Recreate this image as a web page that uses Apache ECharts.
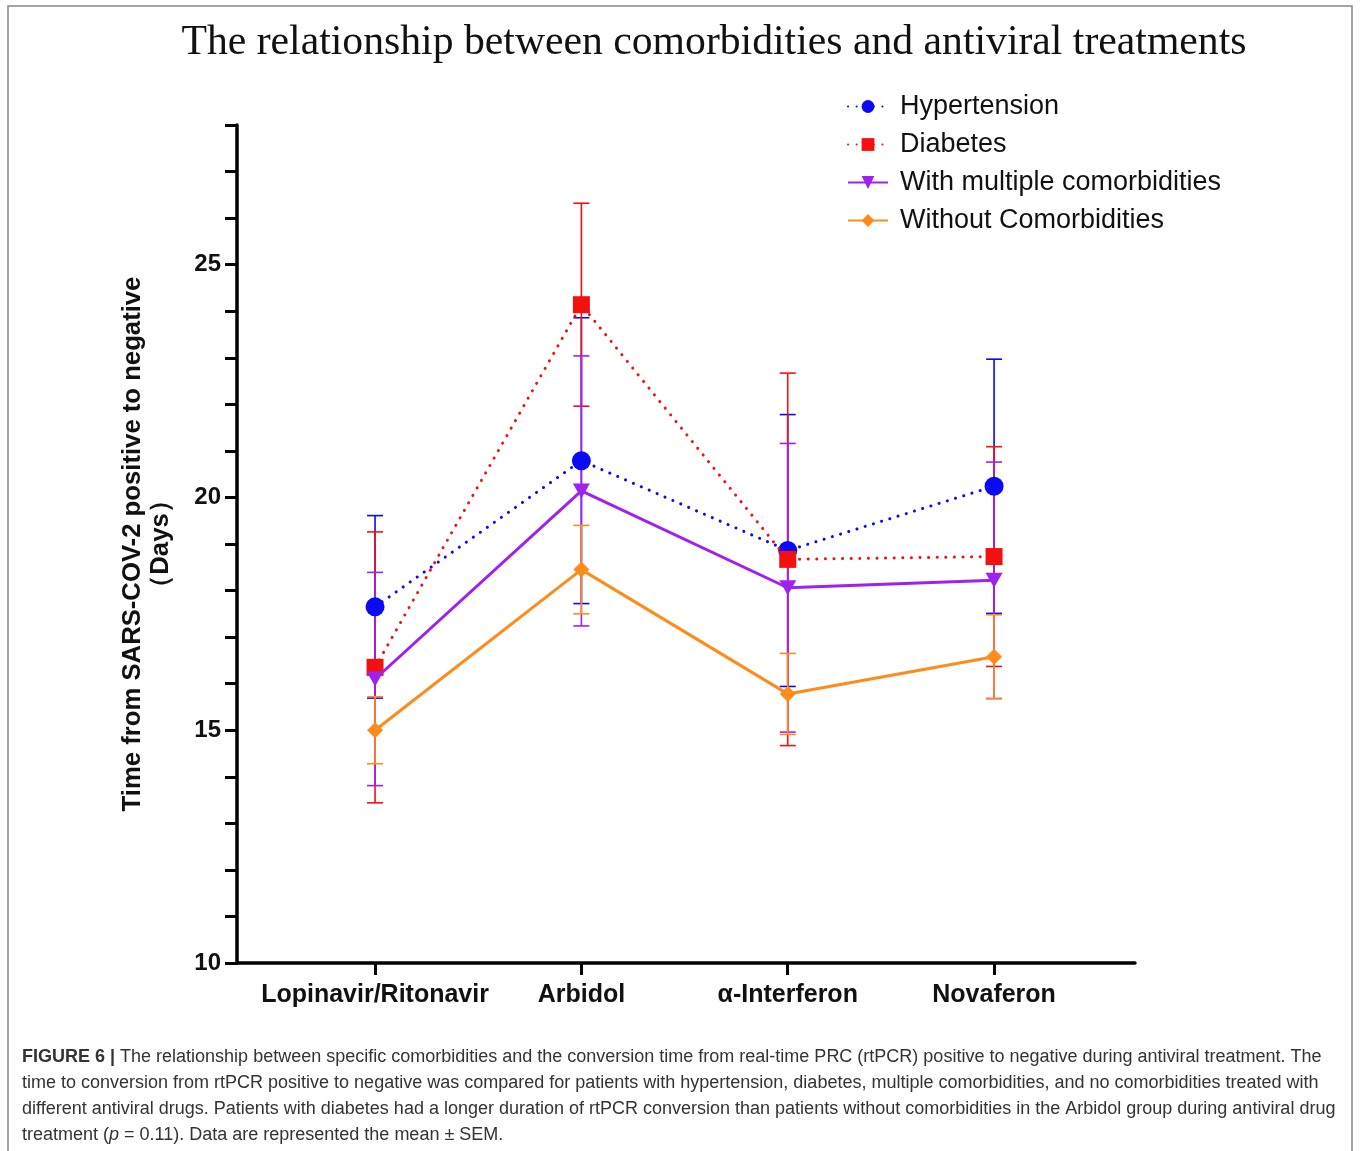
<!DOCTYPE html>
<html>
<head>
<meta charset="utf-8">
<script src="https://cdn.jsdelivr.net/npm/echarts@6/dist/echarts.min.js"></script>
<style>html,body{margin:0;padding:0;background:#fff;}#chart{width:1360px;height:1151px;}</style>
</head>
<body>
<div id="chart"></div>
<script>
const categories = ['Lopinavir/Ritonavir', 'Arbidol', 'α-Interferon', 'Novaferon'];
const seriesNames = ['Hypertension', 'Diabetes', 'With multiple comorbidities', 'Without Comorbidities'];
const hypMean = [17.65, 20.79, 18.86, 20.24];
const hypSem  = [1.96, 3.07, 2.92, 2.73];
const diaMean = [16.35, 24.14, 18.67, 18.73];
const diaSem  = [2.91, 2.18, 4.00, 2.36];
const mulMean = [16.10, 20.14, 18.06, 18.22];
const mulSem  = [2.29, 2.90, 3.10, 2.54];
const woMean  = [15.00, 18.45, 15.78, 16.58];
const woSem   = [0.72, 0.95, 0.87, 0.90];
const yLabelTicks = [10, 15, 20, 25];

const colors = ['#0A0AF5', '#F51010', '#A020F0', '#FF8C1A'];
const means = [hypMean, diaMean, mulMean, woMean];
const sems = [hypSem, diaSem, mulSem, woSem];
const symbols = ['circle', 'rect', 'triangle', 'diamond'];
const symbolSizes = [19, 17, [17, 15], [16, 16]];
const dotted = [true, true, false, false];

const chart = echarts.init(document.getElementById('chart'));

const series = [];
// error bars (mean ± SEM)
means.forEach((m, s) => {
  series.push({
    type: 'custom',
    name: 'err' + s,
    z: 2 + s * 0.1,
    silent: true,
    data: m.map((v, i) => [i, v - sems[s][i], v + sems[s][i]]),
    encode: { x: 0, y: [1, 2] },
    renderItem: function (params, api) {
      const x = api.value(0);
      const lo = api.coord([x, api.value(1)]);
      const hi = api.coord([x, api.value(2)]);
      const w = 8;
      const style = { stroke: colors[s], lineWidth: 1.6 };
      return {
        type: 'group',
        children: [
          { type: 'line', shape: { x1: lo[0], y1: lo[1], x2: hi[0], y2: hi[1] }, style: style },
          { type: 'line', shape: { x1: lo[0] - w, y1: lo[1], x2: lo[0] + w, y2: lo[1] }, style: style },
          { type: 'line', shape: { x1: hi[0] - w, y1: hi[1], x2: hi[0] + w, y2: hi[1] }, style: style }
        ]
      };
    }
  });
});
// lines with markers
means.forEach((m, s) => {
  series.push({
    type: 'line',
    name: seriesNames[s],
    z: 5 + s * 0.1,
    data: m.map((v, i) => [i, v]),
    symbol: symbols[s],
    symbolRotate: symbols[s] === 'triangle' ? 180 : 0,
    symbolSize: symbolSizes[s],
    showAllSymbol: true,
    itemStyle: { color: colors[s], opacity: 1 },
    lineStyle: dotted[s]
      ? { color: colors[s], width: 3, type: [0.1, 8.5], cap: 'round' }
      : { color: colors[s], width: 3 },
    emphasis: { disabled: true },
    animation: false
  });
});

const option = {
  animation: false,
  backgroundColor: '#ffffff',
  title: {
    text: 'The relationship between comorbidities and antiviral treatments',
    left: 709,
    textAlign: 'center',
    top: 17,
    textStyle: { fontFamily: 'Liberation Serif', fontSize: 41.7, fontWeight: 'normal', color: '#111' }
  },
  legend: {
    orient: 'vertical',
    left: 842,
    top: 88,
    itemWidth: 40,
    itemHeight: 16,
    itemGap: 11,
    data: seriesNames,
    textStyle: { fontFamily: 'Liberation Sans', fontSize: 27, color: '#111', padding: [0, 0, 0, 7] },
    selectedMode: false
  },
  grid: { left: 237, right: 225, top: 125, bottom: 188, containLabel: false },
  xAxis: {
    type: 'value',
    min: -0.669,
    max: 3.683,
    splitLine: { show: false },
    axisLine: { show: true, onZero: false, lineStyle: { color: '#000', width: 3.5 } },
    axisTick: { show: true, customValues: [0, 1, 2, 3], length: 12, lineStyle: { color: '#000', width: 3 } },
    axisLabel: {
      customValues: [0, 1, 2, 3],
      formatter: v => categories[Math.round(v)],
      margin: 20,
      fontFamily: 'Liberation Sans', fontWeight: 'bold', fontSize: 25, color: '#111'
    }
  },
  yAxis: {
    type: 'value',
    min: 10,
    max: 28,
    interval: 1,
    splitLine: { show: false },
    axisLine: { show: true, onZero: false, lineStyle: { color: '#000', width: 3.5 } },
    axisTick: { show: true, length: 12, lineStyle: { color: '#000', width: 3 } },
    axisLabel: {
      formatter: v => (yLabelTicks.indexOf(v) >= 0 ? String(v) : ''),
      margin: 16,
      fontFamily: 'Liberation Sans', fontWeight: 'bold', fontSize: 24, color: '#111'
    },
    name: 'Time from SARS-COV-2 positive to negative\n（Days）',
    nameLocation: 'middle',
    nameGap: 62,
    nameTextStyle: { fontFamily: 'Liberation Sans', fontWeight: 'bold', fontSize: 25.7, color: '#111', lineHeight: 28 }
  },
  graphic: [
    { type: 'rect', shape: { x: 8, y: 6, width: 1344, height: 1170 }, style: { fill: 'none', stroke: '#888', lineWidth: 1.5 }, silent: true },
    { type: 'text', x: 22, y: 1048, style: {
        text: '{b|FIGURE 6 |} The relationship between specific comorbidities and the conversion time from real-time PRC (rtPCR) positive to negative during antiviral treatment. The',
        fontFamily: 'Liberation Sans', fontSize: 18, fill: '#333',
        rich: { b: { fontWeight: 'bold', fontFamily: 'Liberation Sans', fontSize: 18, fill: '#333' } }
      } },
    { type: 'text', x: 22, y: 1074, style: {
        text: 'time to conversion from rtPCR positive to negative was compared for patients with hypertension, diabetes, multiple comorbidities, and no comorbidities treated with',
        fontFamily: 'Liberation Sans', fontSize: 18, fill: '#333' } },
    { type: 'text', x: 22, y: 1100, style: {
        text: 'different antiviral drugs. Patients with diabetes had a longer duration of rtPCR conversion than patients without comorbidities in the Arbidol group during antiviral drug',
        fontFamily: 'Liberation Sans', fontSize: 18, fill: '#333' } },
    { type: 'text', x: 22, y: 1126, style: {
        text: 'treatment ({i|p} = 0.11). Data are represented the mean ± SEM.',
        fontFamily: 'Liberation Sans', fontSize: 18, fill: '#333',
        rich: { i: { fontStyle: 'italic', fontFamily: 'Liberation Sans', fontSize: 18, fill: '#333' } }
      } }
  ],
  series: series
};
chart.setOption(option);
</script>
</body>
</html>
